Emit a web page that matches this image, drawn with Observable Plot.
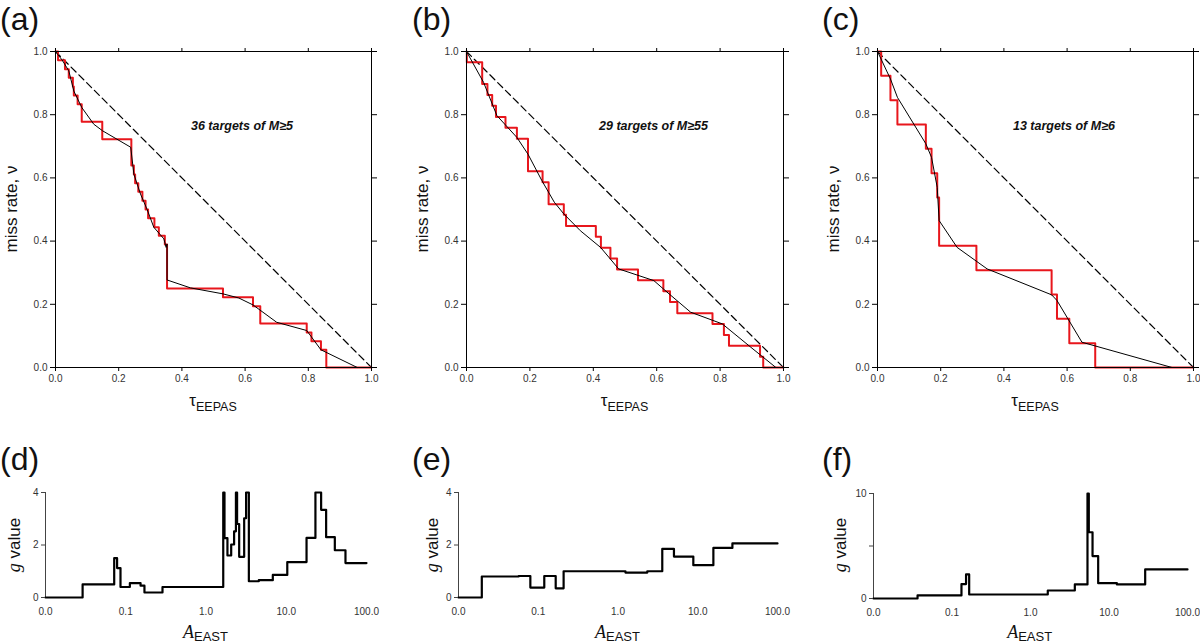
<!DOCTYPE html>
<html><head><meta charset="utf-8">
<script src="https://cdn.jsdelivr.net/npm/d3@7"></script>
<script src="https://cdn.jsdelivr.net/npm/@observablehq/plot@0.6"></script>
<style>
body{margin:0;background:#fff;font-family:"Liberation Sans",Arial,sans-serif;}
#root{position:relative;width:1200px;height:644px;overflow:hidden;background:#fff;}
.pane{position:absolute;}
.lbl{position:absolute;white-space:nowrap;color:#111;line-height:1;}
.letter{font-size:32px;transform:none;}
.rot{transform:translate(-50%,-50%) rotate(-90deg);}
.ctr{transform:translate(-50%,-50%);}
.serif{font-family:"Liberation Serif","DejaVu Serif",serif;font-style:italic;}
</style></head><body><div id="root"></div>
<script>
// ---------- Data: miss-rate panels (a)-(c) ----------
const missTicks = [0, 0.2, 0.4, 0.6, 0.8, 1.0];
const diagTau = [0, 1];
const diagMiss = [1, 0];

// (a) 36 targets of M>=5 : red step curve (tau at each step, miss rate after step)
const aTau  = [0, 0.008, 0.030, 0.042, 0.055, 0.058, 0.070, 0.083, 0.148, 0.240, 0.248, 0.252, 0.262, 0.275, 0.285, 0.293, 0.313, 0.327, 0.346, 0.353, 0.530, 0.625, 0.648, 0.795, 0.810, 0.840, 0.857, 1.0];
const aMiss = [1, 0.972, 0.944, 0.917, 0.889, 0.861, 0.833, 0.778, 0.722, 0.639, 0.611, 0.583, 0.556, 0.528, 0.500, 0.472, 0.444, 0.417, 0.389, 0.250, 0.222, 0.194, 0.139, 0.111, 0.083, 0.056, 0, 0];
// (a) black expected curve
const aExpTau  = [0, 0.021, 0.042, 0.058, 0.083, 0.121, 0.149, 0.238, 0.248, 0.269, 0.290, 0.311, 0.343, 0.350, 0.353, 0.353, 0.427, 0.530, 0.580, 0.625, 0.700, 0.795, 0.840, 0.955, 1.0];
const aExpMiss = [1, 0.973, 0.939, 0.875, 0.823, 0.770, 0.749, 0.697, 0.612, 0.549, 0.500, 0.444, 0.407, 0.380, 0.391, 0.277, 0.252, 0.233, 0.220, 0.198, 0.143, 0.117, 0.056, 0, 0];

// (b) 29 targets of M>=5.5
const bTau  = [0, 0.001, 0.0495, 0.066, 0.081, 0.093, 0.123, 0.159, 0.194, 0.240, 0.259, 0.307, 0.314, 0.408, 0.424, 0.454, 0.475, 0.541, 0.621, 0.642, 0.665, 0.776, 0.812, 0.828, 0.926, 0.936, 1.0];
const bMiss = [1, 0.966, 0.897, 0.862, 0.828, 0.793, 0.759, 0.724, 0.621, 0.586, 0.517, 0.483, 0.448, 0.414, 0.379, 0.345, 0.310, 0.276, 0.241, 0.207, 0.172, 0.138, 0.103, 0.069, 0.034, 0, 0];
const bExpTau  = [0, 0.054, 0.096, 0.159, 0.194, 0.238, 0.277, 0.307, 0.359, 0.423, 0.480, 0.591, 0.639, 0.707, 0.807, 0.897, 0.976, 1.0];
const bExpMiss = [1, 0.902, 0.797, 0.728, 0.675, 0.591, 0.523, 0.486, 0.433, 0.380, 0.312, 0.275, 0.233, 0.175, 0.138, 0.064, 0, 0];

// (c) 13 targets of M>=6
const cTau  = [0, 0.0116, 0.041, 0.063, 0.153, 0.171, 0.189, 0.195, 0.313, 0.551, 0.568, 0.607, 0.689, 1.0];
const cMiss = [1, 0.923, 0.846, 0.769, 0.692, 0.615, 0.538, 0.385, 0.308, 0.231, 0.154, 0.077, 0, 0];
const cExpTau  = [0, 0.041, 0.063, 0.153, 0.171, 0.189, 0.195, 0.252, 0.347, 0.551, 0.568, 0.647, 0.932, 1.0];
const cExpMiss = [1, 0.913, 0.855, 0.708, 0.665, 0.570, 0.465, 0.380, 0.312, 0.230, 0.212, 0.080, 0, 0];

const notes = ["36 targets of M\u22655", "29 targets of M\u226555", "13 targets of M\u22656"];

// ---------- Data: g-value panels (d)-(f) ----------
const gTicks = [0.01, 0.1, 1, 10, 100];
const gTickLabels = ["0.0", "0.1", "1.0", "10.0", "100.0"];

const dA = [0.01, 0.029, 0.0718, 0.078, 0.086, 0.1125, 0.153, 0.171, 0.287, 1.64, 1.70, 1.85, 2.06, 2.24, 2.36, 2.44, 2.59, 2.99, 3.16, 3.42, 4.55, 6.8, 10.3, 17.9, 23.1, 27.2, 31.4, 40.3, 54.7, 100];
const dG = [0, 0.5, 1.5, 1.12, 0.40, 0.55, 0.45, 0.19, 0.40, 4.0, 2.26, 1.60, 2.02, 2.52, 4.0, 2.80, 1.55, 3.02, 4.0, 0.62, 0.66, 0.86, 1.35, 2.27, 4.0, 3.34, 2.30, 1.80, 1.31, 1.31];

const eA = [0.01, 0.0196, 0.0568, 0.0796, 0.119, 0.1655, 0.208, 1.24, 2.33, 3.59, 5.03, 8.8, 15.7, 27.2, 100];
const eG = [0, 0.80, 0.82, 0.38, 0.82, 0.35, 1.00, 0.95, 1.00, 1.85, 1.56, 1.23, 1.89, 2.06, 2.06];

const fA = [0.01, 0.0364, 0.132, 0.151, 0.1655, 1.66, 3.67, 5.32, 5.53, 6.17, 7.28, 12.6, 28.9, 100];
const fG = [0, 0.29, 1.37, 2.29, 0.38, 0.76, 1.34, 10.0, 6.31, 4.04, 1.46, 1.34, 2.77, 2.77];

// ---------- Drawing ----------
const root = document.getElementById("root");
const FONT = "Liberation Sans, Arial, Helvetica, sans-serif";

function addLabel(html, x, y, cls, size) {
  const d = document.createElement("div");
  d.className = "lbl " + (cls || "");
  d.style.left = x + "px";
  d.style.top = y + "px";
  if (size) d.style.fontSize = size + "px";
  d.innerHTML = html;
  root.appendChild(d);
}

function place(svg, left, top) {
  const d = document.createElement("div");
  d.className = "pane";
  d.style.left = left + "px";
  d.style.top = top + "px";
  d.appendChild(svg);
  root.appendChild(d);
}

function missPanel(tau, miss, eTau, eMiss, note, left, ml, mr) {
  const red = tau.map((t, i) => ({t, v: miss[i]}));
  const blk = eTau.map((t, i) => ({t, v: eMiss[i]}));
  const diag = diagTau.map((t, i) => ({t, v: diagMiss[i]}));
  const svg = Plot.plot({
    width: 400, height: 420,
    marginLeft: ml, marginRight: mr, marginTop: 51, marginBottom: 53,
    style: {fontFamily: FONT, fontSize: "10px", color: "#333", background: "transparent", overflow: "visible"},
    x: {domain: [0, 1]},
    y: {domain: [0, 1]},
    marks: [
      Plot.line(diag, {x: "t", y: "v", stroke: "#000", strokeWidth: 1.2, strokeDasharray: "7,4"}),
      Plot.line(red, {x: "t", y: "v", curve: "step-after", stroke: "#e8161c", strokeWidth: 2}),
      Plot.line(blk, {x: "t", y: "v", stroke: "#000", strokeWidth: 1}),
      Plot.frame({stroke: "#000", strokeWidth: 1}),
      Plot.axisX(missTicks, {anchor: "bottom", tickFormat: d => d.toFixed(1), tickSize: 4, tickPadding: 3, label: null, stroke: "#000"}),
      Plot.axisX(missTicks, {anchor: "top", tickFormat: () => "", tickSize: 4, label: null, stroke: "#000"}),
      Plot.axisY(missTicks, {anchor: "left", tickFormat: d => d.toFixed(1), tickSize: 5, tickPadding: 3, label: null, stroke: "#000"}),
      Plot.axisY(missTicks, {anchor: "right", tickFormat: () => "", tickSize: 5, label: null, stroke: "#000"}),
      Plot.text([note], {x: () => 0.59, y: () => 0.763, text: d => d, fontWeight: "bold", fontStyle: "italic", fontSize: 12.5, fill: "#111"})
    ]
  });
  place(svg, left, 0);
}

function gPanel(A, G, yDomain, yTicks, yFmt, left, ml, mr, mt, mb) {
  const data = A.map((a, i) => ({a, g: G[i]}));
  const svg = Plot.plot({
    width: 400, height: 204,
    marginLeft: ml, marginRight: mr, marginTop: mt, marginBottom: mb,
    style: {fontFamily: FONT, fontSize: "10px", color: "#333", background: "transparent", overflow: "visible"},
    x: {type: "log", domain: [gTicks[0], gTicks[gTicks.length - 1]]},
    y: {domain: yDomain},
    marks: [
      Plot.ruleX([gTicks[0]], {stroke: "#444", strokeWidth: 1}),
      Plot.line(data, {x: "a", y: "g", curve: "step-after", stroke: "#000", strokeWidth: 2.2}),
      Plot.axisX(gTicks, {anchor: "bottom", tickFormat: d => gTickLabels[gTicks.indexOf(d)], tickSize: 0, tickPadding: 10, label: null}),
      Plot.axisY(yTicks, {anchor: "left", tickFormat: yFmt, tickSize: 4, tickPadding: 3, label: null, stroke: "#444"})
    ]
  });
  place(svg, left, 440);
}

missPanel(aTau, aMiss, aExpTau, aExpMiss, notes[0], 0, 55, 29);
missPanel(bTau, bMiss, bExpTau, bExpMiss, notes[1], 400, 66, 17);
missPanel(cTau, cMiss, cExpTau, cExpMiss, notes[2], 800, 77, 7);

gPanel(dA, dG, [0, 4], [0, 2, 4], d => String(d), 0, 45, 34, 52, 47);
gPanel(eA, eG, [0, 4], [0, 2, 4], d => String(d), 400, 58, 23, 52, 47);
gPanel(fA, fG, [0, 10], [0, 5, 10], d => (d === 5 ? "" : String(d)), 800, 73, 13, 53, 46);

// Panel letters
addLabel("(a)", 0, 3, "letter");
addLabel("(b)", 412, 3, "letter");
addLabel("(c)", 822, 3, "letter");
addLabel("(d)", 0, 443, "letter");
addLabel("(e)", 412, 443, "letter");
addLabel("(f)", 822, 443, "letter");

// Axis titles (top row)
[[11, 213], [422, 624.5], [833, 1035]].forEach(([yx, cx]) => {
  addLabel("miss rate, \u03bd", yx, 209, "rot", 17);
  addLabel('<span style="font-size:17px">\u03c4</span><span style="font-size:12.5px;position:relative;top:5px">EEPAS</span>', cx, 400, "ctr");
});

// Axis titles (bottom row)
[[14, 205.5], [432, 617.5], [840, 1029.7]].forEach(([yx, cx]) => {
  addLabel('<span class="serif" style="font-size:18px">g</span> value', yx, 545, "rot", 17);
  addLabel('<span class="serif" style="font-size:18px">A</span><span style="font-size:13px;position:relative;top:3px">EAST</span>', cx, 632, "ctr");
});
</script>
</body></html>
